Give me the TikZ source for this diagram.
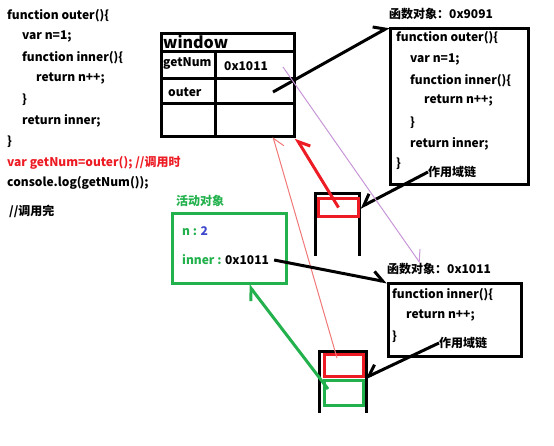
\documentclass[tikz,border=0pt]{standalone}
\usepackage{fontspec}
\setmainfont{Noto Sans CJK SC}
\usetikzlibrary{arrows.meta}
\definecolor{pgreen}{RGB}{34,177,76}
\definecolor{pred}{RGB}{237,28,36}
\definecolor{pblue}{RGB}{63,72,204}
\definecolor{plilac}{RGB}{200,150,215}
\definecolor{ppink}{RGB}{240,120,120}
\tikzset{
  code/.style={anchor=west, inner sep=0pt, font=\fontsize{12}{14}\selectfont\bfseries},
  box/.style={draw, line width=3pt, anchor=north west, inner sep=0pt},
  barb/.style={-{Straight Barb[harpoon, length=10pt, width=16pt]}},
  barbr/.style={-{Straight Barb[harpoon, swap, length=10pt, width=16pt]}},
}
\begin{document}
\begin{tikzpicture}[x=1pt,y=-1pt]
\useasboundingbox (0,0) rectangle (554,446);

% source code on the left
\foreach \n/\x/\y/\t in {a/7/16/{function outer()\{},b/22/37/{var n=1;},c/22/58/{function inner()\{},d/36/79/{return n++;},e/22/100/{\}},f/22/121/{return inner;},g/7/142/{\}},i/7/183/{console.log(getNum());},j/9/211/{//调用完}}
\node[code] (src\n) at (\x,\y) {\t};
\node[code,pred] (srch) at (7,163) {var getNum=outer(); //调用时};

% window table
\node[box,minimum width=133pt,minimum height=103pt] (win) at (160,32) {};
\draw[line width=3pt] (160,52) -- (293,52);
\draw[line width=3pt] (160,79) -- (293,79);
\draw[line width=3pt] (160,104) -- (293,104);
\draw[line width=3pt] (215,52) -- (215,135);
\node[code,font=\fontsize{16}{18}\selectfont\bfseries] (wtitle) at (163,42) {window};
\node[code] (wnum) at (163,63) {getNum};
\node[code] (wnumval) at (224,66) {0x1011};
\node[code] (wouter) at (168,92) {outer};

% function object outer
\node[code] (fouterlbl) at (389,14) {函数对象：0x9091};
\node[box,minimum width=138pt,minimum height=156pt] (fouter) at (389,27) {};
\foreach \n/\x/\y/\t in {a/396/38/{function outer()\{},b/410/60/{var n=1;},c/410/81/{function inner()\{},d/424/101/{return n++;},e/410/123/{\}},f/410/144/{return inner;},g/396/164/{\}}}
\node[code] (fo\n) at (\x,\y) {\t};
\node[code] (chaina) at (428,172) {作用域链};

% function object inner
\node[code] (finnerlbl) at (387,269) {函数对象：0x1011};
\node[box,minimum width=133pt,minimum height=73pt] (finner) at (387,282) {};
\node[code] (fia) at (392,295) {function inner()\{};
\node[code] (fib) at (406,316) {return n++;};
\node[code] (fic) at (392,337) {\}};
\node[code] (chainb) at (439,343) {作用域链};

% activation object
\node[code,pgreen] (actlbl) at (176,201) {活动对象};
\node[box,draw=pgreen,minimum width=114pt,minimum height=70pt] (act) at (171,212) {};
\node[code] (actn) at (182,231) {\textcolor{pgreen}{n : }\textcolor{pblue}{2}};
\node[code] (actinner) at (182,260) {\textcolor{pgreen}{inner : }0x1011};

% call stacks
\draw[line width=3pt] (315,256) -- (315,194) -- (359,194) -- (359,256);
\node[box,draw=pred,minimum width=40pt,minimum height=18pt] (stackatop) at (317,197) {};
\draw[line width=3pt] (319,413) -- (319,351) -- (366,351) -- (366,413);
\node[box,draw=pred,minimum width=39pt,minimum height=22pt] (stackbtop) at (323,353) {};
\node[box,draw=pgreen,minimum width=39pt,minimum height=25pt] (stackbbot) at (323,379) {};

% connectors
\coordinate (outerref) at (273,92);
\coordinate (numref) at (283,67);
\coordinate (lilacend) at (420,263);
\coordinate (pinkstart) at (337,358);
\coordinate (pinkend) at (273,137);
\coordinate (greenstart) at (328,389);
\draw[barb,line width=3pt] (outerref) -- (fouter.north west);
\draw[barbr,line width=3pt] (chaina.west) -- (stackatop.east);
\draw[barbr,pred,line width=3pt] (stackatop.center) -- (win.south east);
\draw[barb,plilac,line width=1pt] (numref) -- (lilacend);
\draw[barbr,ppink,line width=1pt] (pinkstart) -- (pinkend);
\draw[barb,line width=3pt] ([xshift=5pt]actinner.east) -- (finner.north west);
\draw[barbr,line width=3pt] (chainb.west) -- (stackbtop.south east);
\draw[barb,pgreen,line width=3pt] (greenstart) -- ([xshift=19pt]act.south);
\end{tikzpicture}
\end{document}
